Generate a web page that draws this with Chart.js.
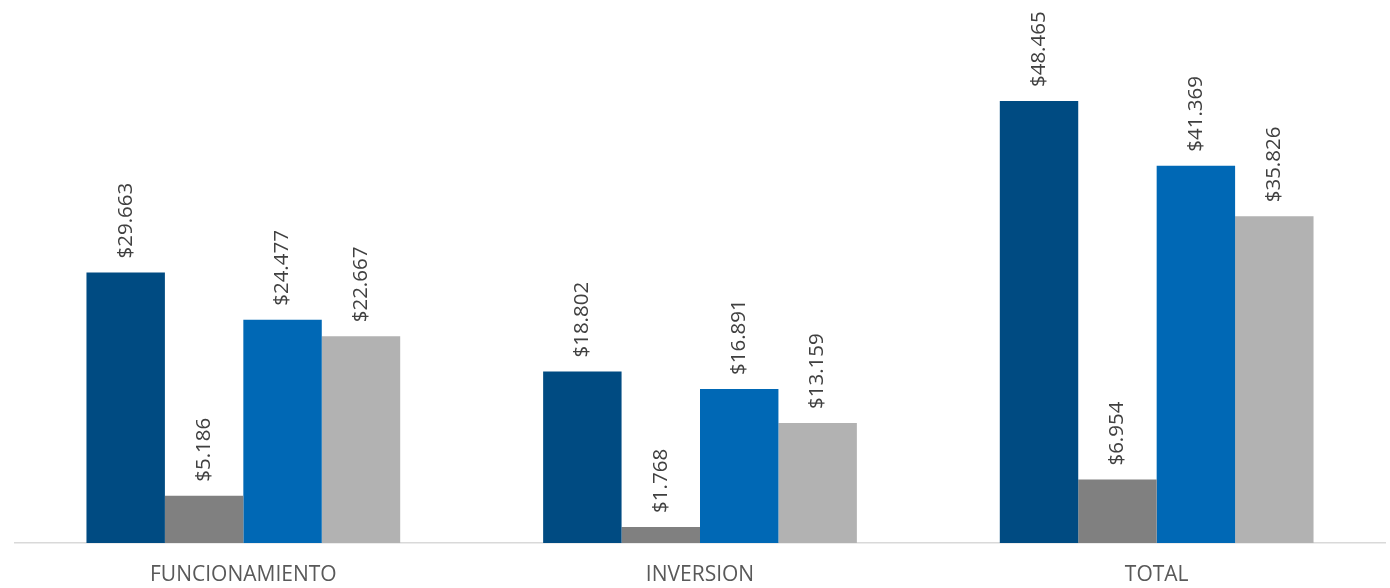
<!DOCTYPE html>
<html>
<head>
<meta charset="utf-8">
<script src="https://cdn.jsdelivr.net/npm/chart.js@4/dist/chart.umd.min.js"></script>
<style>
    html, body { margin: 0; padding: 0; background: #ffffff; }
    #wrap { width: 1390px; height: 588px; }
</style>
</head>
<body>
<div id="wrap"><canvas id="budget-chart"></canvas></div>
<script>
/* ============================================= */
/*                     Data                      */
/* ============================================= */

const categories = ["FUNCIONAMIENTO", "INVERSION", "TOTAL"];
const serieA = [29663, 18802, 48465];
const serieB = [5186, 1768, 6954];
const serieC = [24477, 16891, 41369];
const serieD = [22667, 13159, 35826];

const barColors = ['#004B82', '#808080', '#0068B5', '#B2B2B2'];

// 29663 -> "$29.663"
function formatMoney(v) {
    return '$' + v.toString().replace(/\B(?=(\d{3})+(?!\d))/g, '.');
}

/* ============================================= */
/*             Rotated value labels              */
/* ============================================= */

const valueLabels = {
    id: 'valueLabels',
    afterDatasetsDraw(chart) {
        const ctx = chart.ctx;
        ctx.save();
        ctx.font = '20.5px "Open Sans"';
        ctx.fillStyle = '#404040';
        ctx.textAlign = 'left';
        ctx.textBaseline = 'middle';
        chart.data.datasets.forEach((ds, i) => {
            chart.getDatasetMeta(i).data.forEach((bar, j) => {
                ctx.save();
                ctx.translate(bar.x, bar.y - 14);
                ctx.rotate(-Math.PI / 2);
                ctx.fillText(formatMoney(ds.data[j]), 0, 0);
                ctx.restore();
            });
        });
        ctx.restore();
    }
};

/* ============================================= */
/*                   Bar Graph                   */
/* ============================================= */

const budgetCanvas = document.getElementById('budget-chart');

const budgetData = {
    labels: categories,
    datasets: [serieA, serieB, serieC, serieD].map((d, i) => ({
        data: d,
        backgroundColor: barColors[i],
        borderWidth: 0
    }))
};

const budgetOptions = {
    responsive: true,
    maintainAspectRatio: false,
    animation: false,
    layout: {
        padding: { left: 15, right: 5, top: 5, bottom: 5 }
    },
    datasets: {
        bar: {
            categoryPercentage: 0.687,
            barPercentage: 1
        }
    },
    scales: {
        x: {
            grid: { display: false },
            border: { color: '#D9D9D9', width: 1.5 },
            ticks: {
                color: '#595959',
                padding: 11,
                font: { family: '"Open Sans"', size: 21 }
            },
            afterFit(scale) {
                scale.height = 40;
            }
        },
        y: {
            display: false,
            min: 0,
            max: 59000
        }
    },
    plugins: {
        legend: { display: false },
        tooltip: { enabled: false }
    }
};

let budgetChart = new Chart(budgetCanvas, {
    type: 'bar',
    data: budgetData,
    options: budgetOptions,
    plugins: [valueLabels]
});
</script>
</body>
</html>
